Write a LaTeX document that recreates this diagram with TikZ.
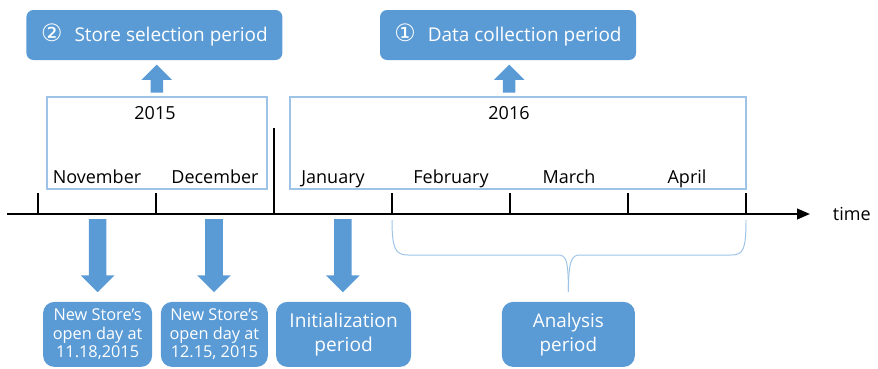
\documentclass[tikz,border=0pt]{standalone}
\usepackage{fontspec}
\setmainfont{Open Sans}
\newfontfamily\circfont{DejaVu Sans}
\usetikzlibrary{shapes,arrows.meta,positioning,calc}
\definecolor{boxblue}{HTML}{5B9BD5}
\definecolor{lineblue}{HTML}{9DC3E6}

\begin{document}
\begin{tikzpicture}[
  periodbox/.style={rectangle, fill=boxblue, rounded corners=5pt, minimum width=6.4cm, minimum height=1.25cm, text=white, font=\fontsize{13.5}{16}\selectfont},
  notebox/.style={rectangle, fill=boxblue, rounded corners=8pt, minimum height=1.625cm, inner sep=1pt, align=center, text=white},
  yearbox/.style={rectangle, draw=lineblue, line width=0.8pt, minimum height=2.3cm},
  upblock/.style={single arrow, fill=boxblue, rotate=90, inner sep=0.15cm, text height=0pt, text depth=0pt, minimum height=0.7cm, single arrow head extend=0.225cm},
  downblock/.style={single arrow, fill=boxblue, rotate=-90, inner sep=0.2125cm, text height=0pt, text depth=0pt, minimum height=1.825cm, single arrow head extend=0.2cm},
  lbl/.style={font=\fontsize{12.8}{15}\selectfont},
  axis/.style={line width=1.6pt},
  bracestroke/.style={draw=lineblue, line width=0.7pt}
]
  \useasboundingbox (0,0) rectangle (21.95,-9.2);

  % periods on top
  \node[periodbox] (select) at (3.86,-0.875) {{\circfont\fontsize{17}{17}\selectfont ②}\hspace{0.3cm}Store selection period};
  \node[periodbox] (collect) at (12.7,-0.875) {{\circfont\fontsize{17}{17}\selectfont ①}\hspace{0.3cm}Data collection period};
  \node[upblock, anchor=tip] (up1) at ([xshift=0.06cm, yshift=-0.1cm]select.south) {};
  \node[upblock, anchor=tip] (up2) at ([xshift=0.03cm, yshift=-0.1cm]collect.south) {};

  % year boxes
  \node[yearbox, minimum width=5.5cm] (y2015) at (3.925,-3.575) {};
  \node[yearbox, minimum width=11.4cm] (y2016) at (12.95,-3.575) {};
  \node[lbl, anchor=base] (yr1) at (3.875,-2.975) {2015};
  \node[lbl, anchor=base] (yr2) at (12.725,-2.975) {2016};

  % time axis
  \coordinate (start) at (0.175,-5.35);
  \coordinate (end) at (20.25,-5.35);
  \draw[axis, -{Triangle[length=0.32cm, width=0.26cm]}] (start) -- (end);
  \node[lbl, right=0.45cm of end] (time) {time};
  \foreach \i in {0,...,6}
    \coordinate (t\i) at (0.95+2.95*\i,-5.35);
  \foreach \i in {0,1,3,4,5,6}
    \draw[axis] (t\i) -- ++(0,0.525);
  \draw[axis] (t2) -- ++(0,2.15);
  \foreach \m [count=\i] in {November,December,January,February,March,April}
    \node[lbl, anchor=base] (m\i) at (-0.525+2.95*\i,-4.58) {\m};

  % events below
  \node[notebox, minimum width=2.725cm, font=\fontsize{11.6}{13}\selectfont] (open1) at (2.44,-8.36) {New Store’s\\open day at\\11.18,2015};
  \node[notebox, minimum width=2.675cm, font=\fontsize{11.6}{13}\selectfont] (open2) at (5.36,-8.36) {New Store’s\\open day at\\12.15, 2015};
  \node[notebox, minimum width=3.375cm, font=\fontsize{13.6}{17}\selectfont] (init) at (8.59,-8.36) {Initialization\\period};
  \node[notebox, minimum width=3.325cm, font=\fontsize{13.4}{17}\selectfont] (analysis) at (14.21,-8.36) {Analysis\\period};
  \node[downblock, anchor=tip] (down1) at ([yshift=0.225cm]open1.north) {};
  \node[downblock, anchor=tip] (down2) at ([xshift=-0.01cm, yshift=0.225cm]open2.north) {};
  \node[downblock, anchor=tip] (down3) at ([xshift=-0.02cm, yshift=0.225cm]init.north) {};

  % brace over the analysis months
  \coordinate (bt) at ([yshift=0.25cm]analysis.north);
  \draw[bracestroke] ([yshift=-0.15cm]t3) .. controls ++(0,-0.75) and (9.9,-6.375) .. (10.2,-6.375) -- (13.95,-6.375) .. controls (14.15,-6.375) and ($(bt)+(0,0.8)$) .. (bt);
  \draw[bracestroke] ([yshift=-0.15cm]t6) .. controls ++(0,-0.75) and (18.575,-6.375) .. (18.275,-6.375) -- (14.5,-6.375) .. controls (14.3,-6.375) and ($(bt)+(0,0.8)$) .. (bt);
\end{tikzpicture}
\end{document}
